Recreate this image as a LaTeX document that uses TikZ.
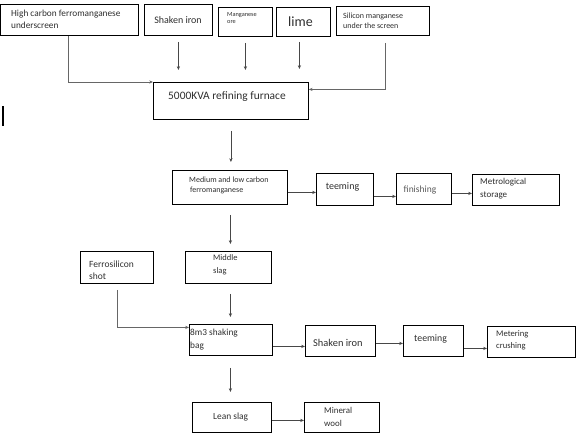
\documentclass[tikz,border=0pt]{standalone}
\usepackage{fontspec}
\setmainfont{Carlito}
\usetikzlibrary{arrows.meta}
\tikzset{
  box/.style={draw=black, line width=0.8pt, inner sep=0pt, anchor=north west},
  txt/.style={inner sep=0pt, text=black!82, align=left, anchor=west},
  ctxt/.style={inner sep=0pt, text=black!82, align=center, anchor=center},
  arr/.style={draw=black!72, line width=0.7pt, -{Stealth[length=3.8pt,width=3.2pt]}},
  fs/.style 2 args={font={\fontsize{#1pt}{#2pt}\selectfont}},
}
\begin{document}
\begin{tikzpicture}[x=1pt,y=-1pt]
\useasboundingbox (0,0) rectangle (577,433);
% boxes
\node[box, minimum width=138pt, minimum height=31pt] (hc) at (0,4) {};
\node[box, minimum width=68pt, minimum height=31pt] (si1) at (144,4) {};
\node[box, minimum width=54pt, minimum height=29pt] (mn) at (218,7) {};
\node[box, minimum width=54pt, minimum height=29pt] (lime) at (276,7) {};
\node[box, minimum width=93pt, minimum height=29pt] (si) at (336,6) {};
\node[box, minimum width=155pt, minimum height=37pt] (fur) at (153,82) {};
\node[box, minimum width=115pt, minimum height=34pt] (med) at (172,170) {};
\node[box, minimum width=57pt, minimum height=32pt] (teem1) at (316,173) {};
\node[box, minimum width=55pt, minimum height=31pt] (fin) at (396,173) {};
\node[box, minimum width=87pt, minimum height=31pt] (metro) at (472,174) {};
\node[box, minimum width=73pt, minimum height=32pt] (ferro) at (80,251) {};
\node[box, minimum width=86pt, minimum height=32pt] (mid) at (185,251) {};
\node[box, minimum width=83pt, minimum height=31pt] (shk) at (189,324) {};
\node[box, minimum width=70pt, minimum height=31pt] (si2) at (305,325) {};
\node[box, minimum width=60pt, minimum height=31pt] (teem2) at (403,325) {};
\node[box, minimum width=88pt, minimum height=31pt] (meter) at (487,326) {};
\node[box, minimum width=79pt, minimum height=30pt] (lean) at (192,402) {};
\node[box, minimum width=75pt, minimum height=30pt] (wool) at (304,402) {};
% texts
\node[txt, fs={9.3}{12}] (thc) at (11,19) {High carbon ferromanganese\\underscreen};
\node[ctxt, fs={10}{12}] (tsi1) at (178,20) {Shaken iron};
\node[txt, fs={6.3}{6.5}] (tmn) at (227,18) {Manganese\\ore};
\node[ctxt, fs={14}{16}] (tlime) at (300.5,22) {lime};
\node[txt, fs={8}{10}] (tsi) at (343,21) {Silicon manganese\\under the screen};
\node[txt, fs={11.4}{13}] (tfur) at (168,97) {5000KVA refining furnace};
\node[txt, fs={8}{10}] (tmed) at (189,185) {Medium and low carbon\\\hspace{1pt}ferromanganese};
\node[ctxt, fs={10}{12}] (tteem1) at (342.5,187) {teeming};
\node[ctxt, text=black!65, fs={9.5}{12}] (tfin) at (420,190) {finishing};
\node[txt, fs={9}{13}] (tmetro) at (480,189) {Metrological\\storage};
\node[txt, fs={9.5}{12}] (tferro) at (89,270) {Ferrosilicon\\shot};
\node[txt, fs={8.5}{13}] (tmid) at (213,265) {Middle\\slag};
\node[txt, fs={9.3}{13}] (tshk) at (190,339.5) {8m3 shaking\\bag};
\node[txt, fs={10.4}{12}] (tsi2) at (313,343) {Shaken iron};
\node[txt, fs={9.8}{12}] (tteem2) at (414,339) {teeming};
\node[txt, fs={8.6}{12}] (tmeter) at (496,340) {Metering\\crushing};
\node[txt, fs={9.4}{12}] (tlean) at (213,417) {Lean slag};
\node[txt, fs={8.9}{13}] (twool) at (324,417) {Mineral\\wool};
% connectors into furnace
\draw[arr, line width=0.8pt, draw=black!60] ([xshift=-1pt]hc.south) |- (fur.north west);
\draw[arr] ([yshift=-6pt]si1.south) -- ([yshift=12pt]si1.south |- fur.north);
\draw[arr] ([yshift=-6pt]mn.south) -- ([yshift=12pt]mn.south |- fur.north);
\draw[arr] ([xshift=-4pt,yshift=-5pt]lime.south) -- ([xshift=-4pt,yshift=13pt]lime.south |- fur.north);
\draw[arr, line width=0.8pt, draw=black!60] ([xshift=2pt,yshift=-7pt]si.south) |- ([yshift=11.5pt]fur.east);
% main vertical chain
\draw[arr] ([yshift=-11pt]fur.south) -- ([yshift=8pt]fur.south |- med.north);
\draw[arr] ([xshift=0.5pt,yshift=-10pt]med.south) -- ([xshift=0.5pt,yshift=7pt]med.south |- mid.north);
\draw[arr] ([xshift=2pt,yshift=-10pt]mid.south) -- ([xshift=2pt,yshift=7pt]mid.south |- shk.north);
\draw[arr] ([xshift=-0.5pt,yshift=-12pt]shk.south) -- ([xshift=-0.5pt,yshift=10pt]shk.south |- lean.north);
% horizontal rows
\draw[arr] ([yshift=-5pt]med.east) -- ([yshift=-5pt]med.east -| teem1.west);
\draw[arr] ([yshift=-7pt]teem1.east) -- ([yshift=-7pt]teem1.east -| fin.west);
\draw[arr] ([yshift=-4.5pt]fin.east) -- ([yshift=-4.5pt]fin.east -| metro.west);
\draw[arr, line width=0.8pt, draw=black!60] ([yshift=-6pt]ferro.south) |- ([yshift=12.5pt]shk.west);
\draw[arr] ([yshift=-6.5pt]shk.east) -- ([yshift=-6.5pt]shk.east -| si2.west);
\draw[arr] ([yshift=-2.5pt]si2.east) -- ([yshift=-2.5pt]si2.east -| teem2.west);
\draw[arr] ([yshift=-7.5pt]teem2.east) -- ([yshift=-7.5pt]teem2.east -| meter.west);
\draw[arr] ([yshift=-3pt]lean.east) -- ([yshift=-3pt]lean.east -| wool.west);
% stray cursor mark
\draw[line width=1.8pt] (3,106) -- (3,126);
\end{tikzpicture}
\end{document}
